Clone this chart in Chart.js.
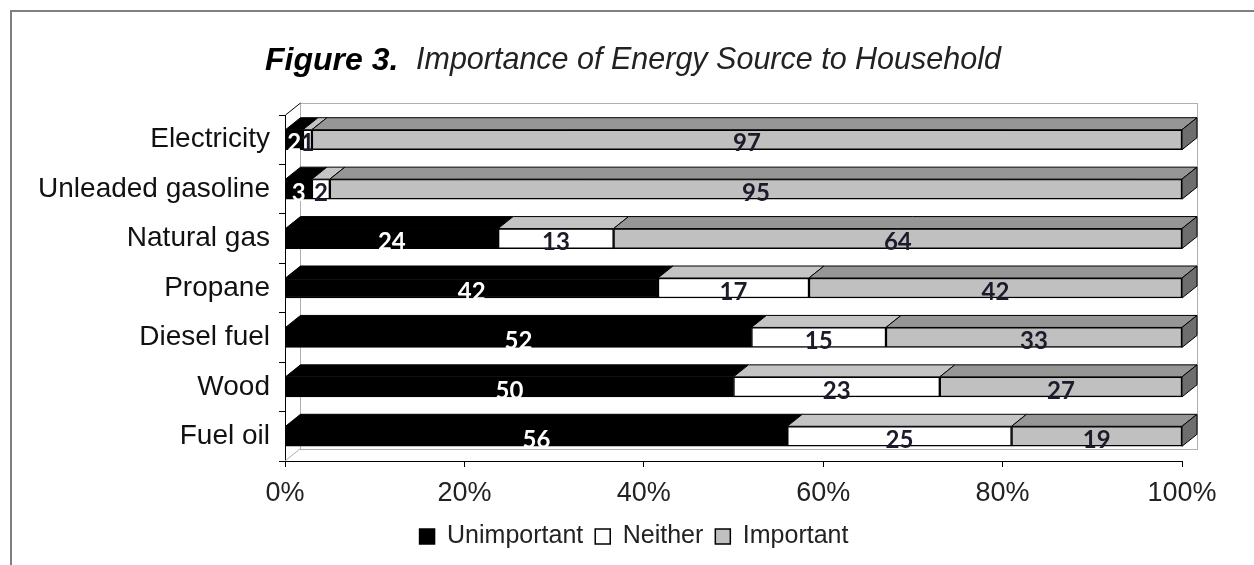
<!DOCTYPE html>
<html>
<head>
<meta charset="utf-8">
<script src="https://cdn.jsdelivr.net/npm/chart.js@4"></script>
<style>
  html, body { margin: 0; padding: 0; background: #ffffff; }
  #wrap { position: relative; width: 1254px; height: 565px; }
</style>
</head>
<body>
<div id="wrap"><canvas id="energy-chart"></canvas></div>
<script>
/* global Chart */

// Figure 3 - share of households rating each energy source, 100% stacked bars
// drawn with a fake 3D depth (top faces, right end cap, back wall).

const CATEGORIES = [
  "Electricity",
  "Unleaded gasoline",
  "Natural gas",
  "Propane",
  "Diesel fuel",
  "Wood",
  "Fuel oil",
];

const UNIMPORTANT = [2, 3, 24, 42, 52, 50, 56];
const NEITHER = [1, 2, 13, 17, 15, 23, 25];
const IMPORTANT = [97, 95, 64, 42, 33, 27, 19];

const SERIES_LABELS = ["Unimportant", "Neither", "Important"];
const X_TICKS = [0, 20, 40, 60, 80, 100];

const FACE_COLORS = ["#000000", "#ffffff", "#c0c0c0"];
const TOP_COLORS = ["#000000", "#c4c4c4", "#969696"];
const LABEL_COLORS = ["#ffffff", "#1b1b2b", "#1b1b2b"];
const SIDE_COLOR = "#6e6e6e";

const FONT = "Arial, 'Liberation Sans', sans-serif";

// 3D offset of the bar depth
const DEPTH_X = 15;
const DEPTH_Y = 12;

const seriesValues = [UNIMPORTANT, NEITHER, IMPORTANT];
const rowTotals = CATEGORIES.map((_, i) =>
  seriesValues.reduce((sum, values) => sum + values[i], 0)
);

function toPercent(values) {
  return values.map((value, i) => (value / rowTotals[i]) * 100);
}

const depthPlugin = {
  id: "depth3d",
  beforeDraw(chart) {
    const { ctx } = chart;
    ctx.save();
    // outer frame of the figure
    ctx.strokeStyle = "#808080";
    ctx.lineWidth = 2;
    ctx.beginPath();
    ctx.moveTo(11, 565);
    ctx.lineTo(11, 11);
    ctx.lineTo(1254, 11);
    ctx.stroke();
    ctx.restore();
  },
  beforeDatasetsDraw(chart) {
    const { ctx, chartArea } = chart;
    const { left, right, top, bottom } = chartArea;
    ctx.save();
    ctx.strokeStyle = "#b0b0b0";
    ctx.lineWidth = 1;
    // back wall
    ctx.strokeRect(left + DEPTH_X + 0.5, top - DEPTH_Y + 0.5, right - left, bottom - top);
    // floor edge
    ctx.beginPath();
    ctx.moveTo(left, bottom);
    ctx.lineTo(left + DEPTH_X, bottom - DEPTH_Y);
    ctx.stroke();
    // top of left side wall
    ctx.strokeStyle = "#000000";
    ctx.beginPath();
    ctx.moveTo(left + 0.5, top);
    ctx.lineTo(left + DEPTH_X + 0.5, top - DEPTH_Y);
    ctx.stroke();
    ctx.restore();
  },
  afterDatasetsDraw(chart) {
    const { ctx } = chart;
    const lastIndex = chart.data.datasets.length - 1;
    ctx.save();
    ctx.lineWidth = 1;
    ctx.strokeStyle = "#000000";
    ctx.lineJoin = "round";

    chart.data.datasets.forEach((dataset, di) => {
      const meta = chart.getDatasetMeta(di);
      meta.data.forEach((bar) => {
        const { x, y, base, height } = bar.getProps(["x", "y", "base", "height"], true);
        const x0 = Math.min(x, base);
        const x1 = Math.max(x, base);
        const yTop = y - height / 2;
        const yBottom = y + height / 2;

        ctx.fillStyle = TOP_COLORS[di];
        ctx.beginPath();
        ctx.moveTo(x0, yTop);
        ctx.lineTo(x0 + DEPTH_X, yTop - DEPTH_Y);
        ctx.lineTo(x1 + DEPTH_X, yTop - DEPTH_Y);
        ctx.lineTo(x1, yTop);
        ctx.closePath();
        ctx.fill();
        ctx.stroke();

        if (di === lastIndex) {
          ctx.fillStyle = SIDE_COLOR;
          ctx.beginPath();
          ctx.moveTo(x1, yTop);
          ctx.lineTo(x1 + DEPTH_X, yTop - DEPTH_Y);
          ctx.lineTo(x1 + DEPTH_X, yBottom - DEPTH_Y);
          ctx.lineTo(x1, yBottom);
          ctx.closePath();
          ctx.fill();
          ctx.stroke();
        }
      });
    });

    // value labels centred on each front face
    ctx.font = "bold 24px Lato, 'Open Sans', sans-serif";
    ctx.textAlign = "center";
    ctx.textBaseline = "middle";
    chart.data.datasets.forEach((dataset, di) => {
      const meta = chart.getDatasetMeta(di);
      meta.data.forEach((bar, i) => {
        const { x, y, base } = bar.getProps(["x", "y", "base"], true);
        ctx.fillStyle = LABEL_COLORS[di];
        ctx.fillText(String(dataset.rawValues[i]), (x + base) / 2, y + 4);
      });
    });
    ctx.restore();
  },
  afterDraw(chart) {
    const { ctx } = chart;
    ctx.save();
    ctx.fillStyle = "#000000";
    ctx.textBaseline = "middle";
    ctx.textAlign = "left";
    ctx.font = `italic bold 32px ${FONT}`;
    ctx.fillText("Figure 3.", 265, 61);
    ctx.font = `italic 30.5px ${FONT}`;
    ctx.fillStyle = "#222222";
    ctx.fillText("Importance of Energy Source to Household", 416, 61);
    ctx.restore();
  },
};

const datasets = seriesValues.map((values, di) => ({
  label: SERIES_LABELS[di],
  data: toPercent(values),
  rawValues: values,
  backgroundColor: FACE_COLORS[di],
  borderColor: "#000000",
  borderWidth: 1.5,
  borderSkipped: false,
  barThickness: 20,
}));

new Chart(document.getElementById("energy-chart"), {
  type: "bar",
  data: { labels: CATEGORIES, datasets },
  plugins: [depthPlugin],
  options: {
    indexAxis: "y",
    responsive: true,
    maintainAspectRatio: false,
    animation: false,
    layout: { padding: { top: 115, right: 0, bottom: 6, left: 14 } },
    scales: {
      x: {
        stacked: true,
        min: 0,
        max: 100,
        afterBuildTicks: (scale) => {
          scale.ticks = X_TICKS.map((value) => ({ value }));
        },
        afterFit: (scale) => {
          scale.height = 51;
        },
        grid: {
          drawOnChartArea: false,
          color: "#000000",
          tickLength: 6,
        },
        border: { color: "#000000", width: 1 },
        ticks: {
          padding: 10,
          color: "#222222",
          font: { family: FONT, size: 27 },
          callback: (value) => `${value}%`,
        },
      },
      y: {
        stacked: true,
        afterFit: (scale) => {
          scale.width = 271;
        },
        grid: {
          offset: true,
          drawOnChartArea: false,
          color: "#000000",
          tickLength: 6,
        },
        border: { color: "#000000", width: 1 },
        ticks: {
          padding: 9,
          color: "#111111",
          font: { family: FONT, size: 28 },
        },
      },
      // empty spacer on the right so the legend centres on the full figure
      spacer: {
        axis: "y",
        type: "linear",
        position: "right",
        afterFit: (scale) => {
          scale.width = 72;
        },
        grid: { display: false },
        border: { display: false },
        ticks: { display: false },
      },
    },
    plugins: {
      title: { display: false },
      tooltip: { enabled: false },
      legend: {
        position: "bottom",
        labels: {
          boxWidth: 15,
          boxHeight: 15,
          padding: 12,
          color: "#222222",
          font: { family: FONT, size: 25 },
        },
      },
    },
  },
});
</script>
</body>
</html>
